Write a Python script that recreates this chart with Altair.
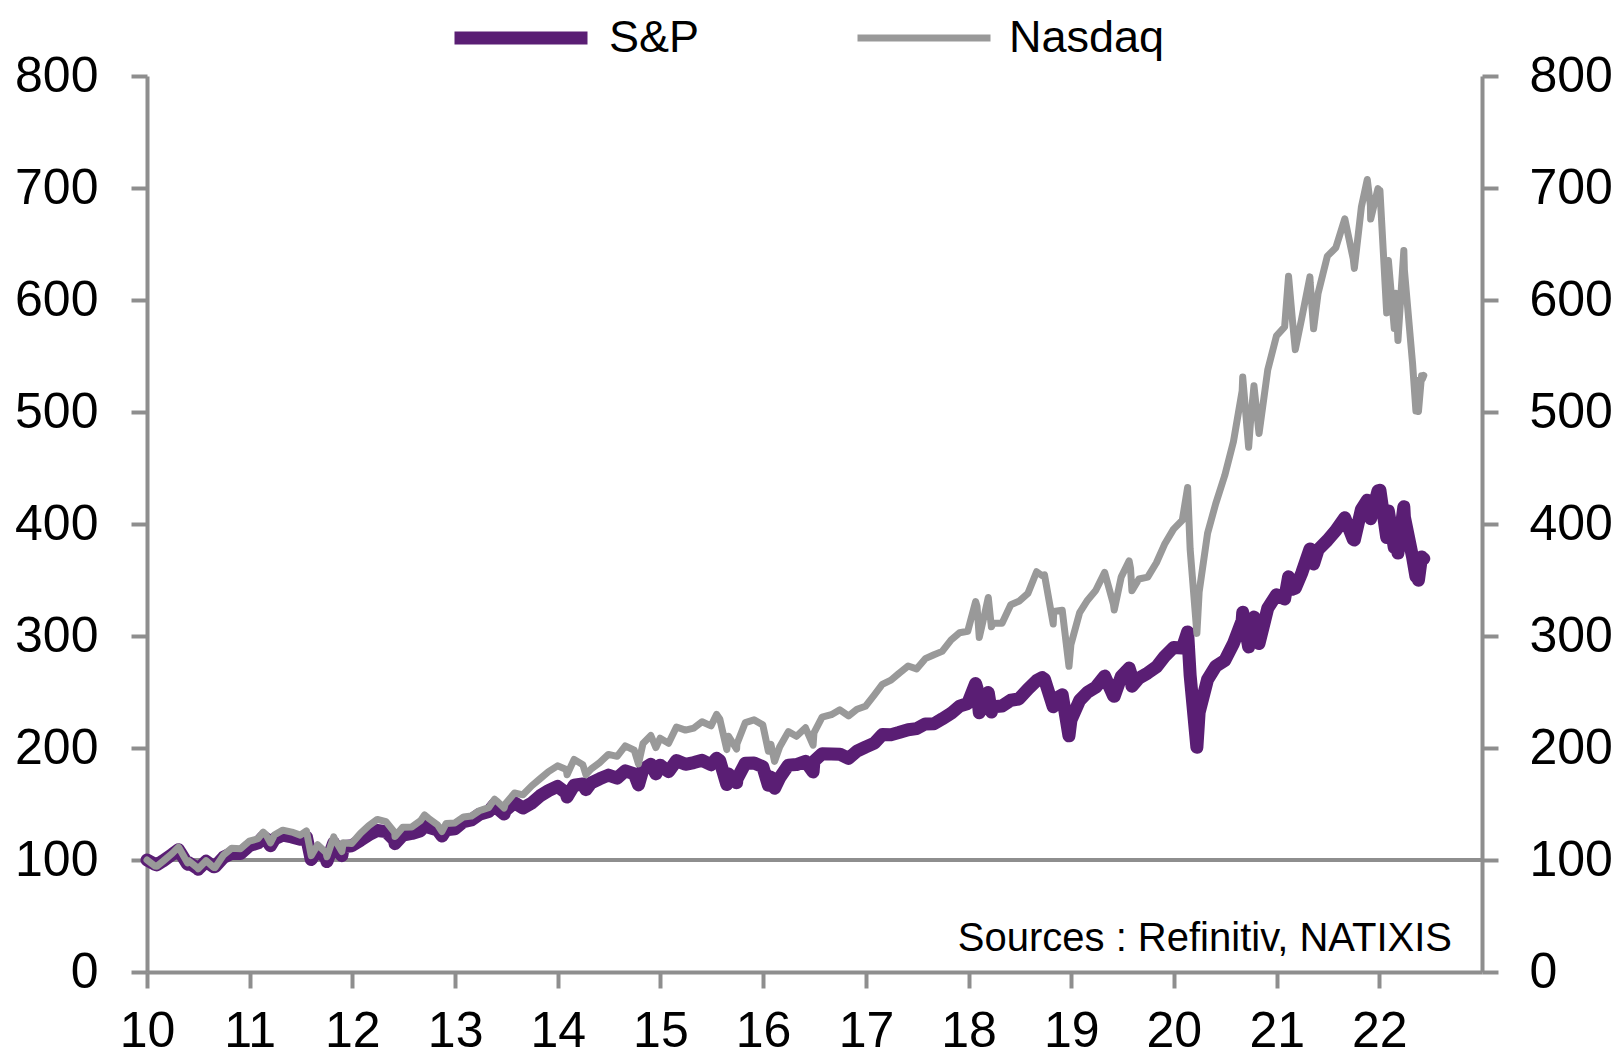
import altair as alt
import pandas as pd

# Observation dates (month-ends plus notable intra-month highs/lows)
dates = [
    "2010-01-01", "2010-01-29", "2010-02-05", "2010-02-26", "2010-03-31", "2010-04-23", "2010-04-30",
    "2010-05-25", "2010-05-28", "2010-06-30", "2010-07-02", "2010-07-30", "2010-08-26", "2010-08-31",
    "2010-09-30", "2010-10-29", "2010-11-30", "2010-12-31",
    "2011-01-31", "2011-02-18", "2011-02-28", "2011-03-16", "2011-03-31", "2011-04-29", "2011-05-31",
    "2011-06-30", "2011-07-22", "2011-08-08", "2011-08-31", "2011-09-30", "2011-10-03", "2011-10-27",
    "2011-10-31", "2011-11-25", "2011-11-30", "2011-12-30",
    "2012-01-31", "2012-02-29", "2012-03-30", "2012-04-30", "2012-05-31", "2012-06-01", "2012-06-29",
    "2012-07-31", "2012-08-31", "2012-09-14", "2012-09-28", "2012-10-31", "2012-11-15", "2012-11-30",
    "2012-12-31",
    "2013-01-31", "2013-02-28", "2013-03-28", "2013-04-30", "2013-05-21", "2013-05-31", "2013-06-24",
    "2013-06-28", "2013-07-31", "2013-08-30", "2013-09-30", "2013-10-31", "2013-11-29", "2013-12-31",
    "2014-01-31", "2014-02-03", "2014-02-28", "2014-03-31", "2014-04-11", "2014-04-30", "2014-05-30",
    "2014-06-30", "2014-07-31", "2014-08-29", "2014-09-30", "2014-10-15", "2014-10-31", "2014-11-28",
    "2014-12-16", "2014-12-31",
    "2015-01-30", "2015-02-27", "2015-03-31", "2015-04-30", "2015-05-29", "2015-06-30", "2015-07-20",
    "2015-07-31", "2015-08-25", "2015-08-31", "2015-09-29", "2015-09-30", "2015-10-30", "2015-11-30",
    "2015-12-31",
    "2016-01-20", "2016-01-29", "2016-02-11", "2016-02-29", "2016-03-31", "2016-04-29", "2016-05-31",
    "2016-06-27", "2016-06-30", "2016-07-29", "2016-08-31", "2016-09-30", "2016-10-31", "2016-11-30",
    "2016-12-30",
    "2017-01-31", "2017-02-28", "2017-03-31", "2017-04-28", "2017-05-31", "2017-06-30", "2017-07-31",
    "2017-08-31", "2017-09-29", "2017-10-31", "2017-11-30", "2017-12-29",
    "2018-01-26", "2018-01-31", "2018-02-08", "2018-02-28", "2018-03-12", "2018-03-23", "2018-03-29",
    "2018-04-30", "2018-05-31", "2018-06-29", "2018-07-31", "2018-08-31", "2018-09-20", "2018-09-28",
    "2018-10-29", "2018-10-31", "2018-11-30", "2018-12-24", "2018-12-31",
    "2019-01-31", "2019-02-28", "2019-03-29", "2019-04-30", "2019-05-31", "2019-06-03", "2019-06-28",
    "2019-07-26", "2019-07-31", "2019-08-05", "2019-08-30", "2019-09-30", "2019-10-31", "2019-11-29",
    "2019-12-31",
    "2020-01-31", "2020-02-19", "2020-02-28", "2020-03-23", "2020-03-31", "2020-04-30", "2020-05-29",
    "2020-06-30", "2020-07-31", "2020-08-31", "2020-09-02", "2020-09-23", "2020-09-30", "2020-10-12",
    "2020-10-30", "2020-11-30", "2020-12-31",
    "2021-01-29", "2021-02-12", "2021-02-26", "2021-03-08", "2021-03-31", "2021-04-29", "2021-04-30",
    "2021-05-12", "2021-05-28", "2021-06-30", "2021-07-30", "2021-08-31", "2021-09-30", "2021-10-04",
    "2021-10-29", "2021-11-19", "2021-11-30", "2021-12-01", "2021-12-27", "2021-12-31",
    "2022-01-03", "2022-01-27", "2022-01-31", "2022-02-02", "2022-02-23", "2022-02-28", "2022-03-08",
    "2022-03-29", "2022-03-31", "2022-04-29", "2022-05-11", "2022-05-17", "2022-05-20", "2022-05-31",
    "2022-06-03", "2022-06-08",
]

# S&P 500 levels
spx = [
    1115.10, 1073.87, 1066.19, 1104.49, 1169.43, 1217.28, 1186.69,
    1074.03, 1089.41, 1030.71, 1022.58, 1101.60, 1047.22, 1049.33,
    1141.20, 1183.26, 1180.55, 1257.64,
    1286.12, 1343.01, 1327.22, 1256.88, 1325.83, 1363.61, 1345.20,
    1320.64, 1345.02, 1119.46, 1218.89, 1131.42, 1099.23, 1284.59,
    1253.30, 1158.67, 1246.96, 1257.60,
    1312.41, 1365.68, 1408.47, 1397.91, 1310.33, 1278.04, 1362.16,
    1379.32, 1406.58, 1465.77, 1440.67, 1412.16, 1353.33, 1416.18,
    1426.19,
    1498.11, 1514.68, 1569.19, 1597.57, 1669.16, 1630.74, 1573.09,
    1606.28, 1685.73, 1632.97, 1681.55, 1756.54, 1805.81, 1848.36,
    1782.59, 1741.89, 1859.45, 1872.34, 1815.69, 1883.95, 1923.57,
    1960.23, 1930.67, 2003.37, 1972.29, 1862.49, 2018.05, 2067.56,
    1972.74, 2058.90,
    1994.99, 2104.50, 2067.89, 2085.51, 2107.39, 2063.11, 2128.28,
    2103.84, 1867.61, 1972.18, 1884.09, 1920.03, 2079.36, 2080.41,
    2043.94,
    1859.33, 1940.24, 1829.08, 1932.23, 2059.74, 2065.30, 2096.95,
    1991.68, 2098.86, 2173.60, 2170.95, 2168.27, 2126.15, 2198.81,
    2238.83,
    2278.87, 2363.64, 2362.72, 2384.20, 2411.80, 2423.41, 2470.30,
    2471.65, 2519.36, 2575.26, 2647.58, 2673.61,
    2872.87, 2823.81, 2581.00, 2713.83, 2783.02, 2588.26, 2640.87,
    2648.05, 2705.27, 2718.37, 2816.29, 2901.52, 2930.75, 2913.98,
    2641.25, 2711.74, 2760.17, 2351.10, 2506.85,
    2704.10, 2784.49, 2834.40, 2945.83, 2752.06, 2744.45, 2941.76,
    3025.86, 2980.38, 2844.74, 2926.46, 2976.74, 3037.56, 3140.98,
    3230.78,
    3225.52, 3386.15, 2954.22, 2237.40, 2584.59, 2912.43, 3044.31,
    3100.29, 3271.12, 3500.31, 3580.84, 3236.92, 3363.00, 3534.22,
    3269.96, 3621.63, 3756.07,
    3714.24, 3934.83, 3811.15, 3821.35, 3972.89, 4211.47, 4181.17,
    4063.04, 4204.11, 4297.50, 4395.26, 4522.68, 4307.54, 4300.46,
    4605.38, 4697.96, 4567.00, 4513.04, 4791.19, 4766.18,
    4796.56, 4326.51, 4515.55, 4589.38, 4225.50, 4373.94, 4170.70,
    4631.60, 4530.41, 4131.93, 3935.18, 4088.85, 3901.36, 4132.15,
    4108.54, 4115.77,
]

# Nasdaq Composite levels
ndq = [
    2269.15, 2147.35, 2141.12, 2238.26, 2397.96, 2530.15, 2461.19,
    2210.95, 2257.04, 2109.24, 2091.79, 2254.70, 2118.69, 2114.03,
    2368.62, 2507.41, 2498.23, 2652.87,
    2700.08, 2833.95, 2782.27, 2616.82, 2781.07, 2873.54, 2835.30,
    2773.52, 2858.83, 2357.69, 2579.46, 2415.40, 2335.83, 2738.63,
    2684.41, 2441.51, 2620.34, 2605.15,
    2813.84, 2966.89, 3091.57, 3046.36, 2827.34, 2747.48, 2935.05,
    2939.52, 3066.96, 3183.95, 3116.23, 2977.23, 2846.81, 3010.24,
    3019.51,
    3142.13, 3160.19, 3267.52, 3328.79, 3502.12, 3455.91, 3320.76,
    3403.25, 3626.37, 3589.87, 3771.48, 3919.71, 4059.89, 4176.59,
    4103.88, 3996.96, 4308.12, 4198.99, 3999.73, 4114.56, 4242.62,
    4408.18, 4369.77, 4580.27, 4493.39, 4215.32, 4630.74, 4791.63,
    4547.83, 4736.05,
    4635.24, 4963.53, 4900.88, 4941.42, 5070.03, 4986.87, 5218.86,
    5128.28, 4506.49, 4776.51, 4517.32, 4620.16, 5053.75, 5108.67,
    5007.41,
    4471.69, 4613.95, 4266.84, 4557.95, 4869.85, 4775.36, 4948.05,
    4594.44, 4842.67, 5162.13, 5213.22, 5312.00, 5189.14, 5323.68,
    5383.12,
    5614.79, 5825.44, 5911.74, 6047.61, 6198.52, 6140.42, 6348.12,
    6428.66, 6495.96, 6727.67, 6873.97, 6903.39,
    7505.77, 7411.48, 6777.16, 7273.01, 7588.32, 6992.67, 7063.45,
    7066.27, 7442.12, 7510.30, 7671.79, 8109.54, 8028.23, 8046.35,
    7050.29, 7305.90, 7330.54, 6192.92, 6635.28,
    7281.74, 7532.53, 7729.32, 8095.39, 7453.15, 7333.02, 8006.24,
    8330.21, 8175.42, 7726.04, 7962.88, 7999.34, 8292.36, 8665.47,
    8972.60,
    9150.94, 9817.18, 8567.37, 6860.67, 7700.10, 8889.55, 9489.87,
    10058.77, 10745.27, 11775.46, 12056.44, 10632.99, 11167.51, 11876.26,
    10911.59, 12198.74, 12888.28,
    13070.69, 14095.47, 13192.35, 12609.16, 13246.87, 14082.55, 13962.68,
    13031.68, 13748.74, 14503.95, 14672.68, 15259.24, 14448.58, 14255.49,
    15498.39, 16057.44, 15537.69, 15254.05, 15871.26, 15644.97,
    15832.80, 13352.78, 14239.88, 14417.55, 13037.49, 13751.40, 12795.55,
    14619.64, 14220.52, 12334.64, 11364.24, 11984.52, 11354.62, 12081.39,
    12012.73, 12086.27,
]

series_names = ["S&P", "Nasdaq"]
year_ticks = list(range(2010, 2023))
y_ticks = list(range(0, 801, 100))
source_text = "Sources : Refinitiv, NATIXIS"

# Rebase both indices to 100 at the start of 2010
rows = []
for name, levels in zip(series_names, [spx, ndq]):
    base = levels[0]
    for d, v in zip(dates, levels):
        rows.append({"date": d, "value": v / base * 100.0, "series": name})
df = pd.DataFrame(rows)

FONT = "Liberation Sans"
AXIS_GRAY = "#8e8e8e"
PURPLE = "#5a1e74"
LINE_GRAY = "#999999"

x_domain = [alt.DateTime(year=2010, month=1, date=1), alt.DateTime(year=2023, month=1, date=1)]
x_axis = alt.Axis(
    values=[alt.DateTime(year=y, month=1, date=1) for y in year_ticks],
    format="%y", title=None, grid=False,
    domainColor=AXIS_GRAY, domainWidth=4, tickColor=AXIS_GRAY, tickWidth=4, tickSize=16,
    labelFont=FONT, labelFontSize=50, labelColor="black", labelPadding=18,
    labelFlush=False, labelOverlap=False,
)
x_enc = alt.X("date:T", scale=alt.Scale(domain=x_domain), axis=x_axis)

def y_axis(orient, pad):
    return alt.Axis(
        orient=orient, values=y_ticks, title=None, grid=False,
        domainColor=AXIS_GRAY, domainWidth=4, tickColor=AXIS_GRAY, tickWidth=4, tickSize=16,
        labelFont=FONT, labelFontSize=50, labelColor="black", labelPadding=pad,
        labelOverlap=False,
    )

y_scale = alt.Scale(domain=[0, 800], nice=False, zero=True)

legend = alt.Legend(
    orient="none", legendX=301, legendY=-111, direction="horizontal", title=None,
    symbolType="stroke", symbolSize=17689, labelFont=FONT, labelFontSize=45,
    labelColor="black", labelOffset=15, columnPadding=143, padding=0,
)
color_enc = alt.Color("series:N", scale=alt.Scale(domain=series_names, range=[PURPLE, LINE_GRAY]), legend=legend)
width_enc = alt.StrokeWidth("series:N", scale=alt.Scale(domain=series_names, range=[13, 7]), legend=legend)

rule = alt.Chart(pd.DataFrame({"level": [100]})).mark_rule(color=AXIS_GRAY, strokeWidth=4).encode(
    y=alt.Y("level:Q", scale=y_scale, axis=None)
)

spx_line = alt.Chart(df).transform_filter(alt.datum.series == "S&P").mark_line(
    strokeJoin="round", strokeCap="round"
).encode(
    x=x_enc,
    y=alt.Y("value:Q", scale=y_scale, axis=y_axis("left", 33)),
    color=color_enc, strokeWidth=width_enc,
)

ndq_line = alt.Chart(df).transform_filter(alt.datum.series == "Nasdaq").mark_line(
    strokeJoin="round", strokeCap="round"
).encode(
    x=x_enc,
    y=alt.Y("value:Q", scale=y_scale, axis=y_axis("right", 31)),
    color=color_enc, strokeWidth=width_enc,
)

source = alt.Chart(pd.DataFrame({"t": [source_text]})).mark_text(
    font=FONT, fontSize=40, color="black", align="right", baseline="alphabetic"
).encode(text="t:N", x=alt.value(1305), y=alt.value(875))

chart = alt.layer(rule, spx_line, ndq_line, source).resolve_scale(y="independent").properties(
    width=1335, height=896,
    autosize=alt.AutoSizeParams(type="none"),
    padding={"left": 139, "top": 68, "right": 131, "bottom": 100},
).configure_view(stroke=None)

chart.save("out.html", embed_options={"renderer": "svg", "actions": False})
